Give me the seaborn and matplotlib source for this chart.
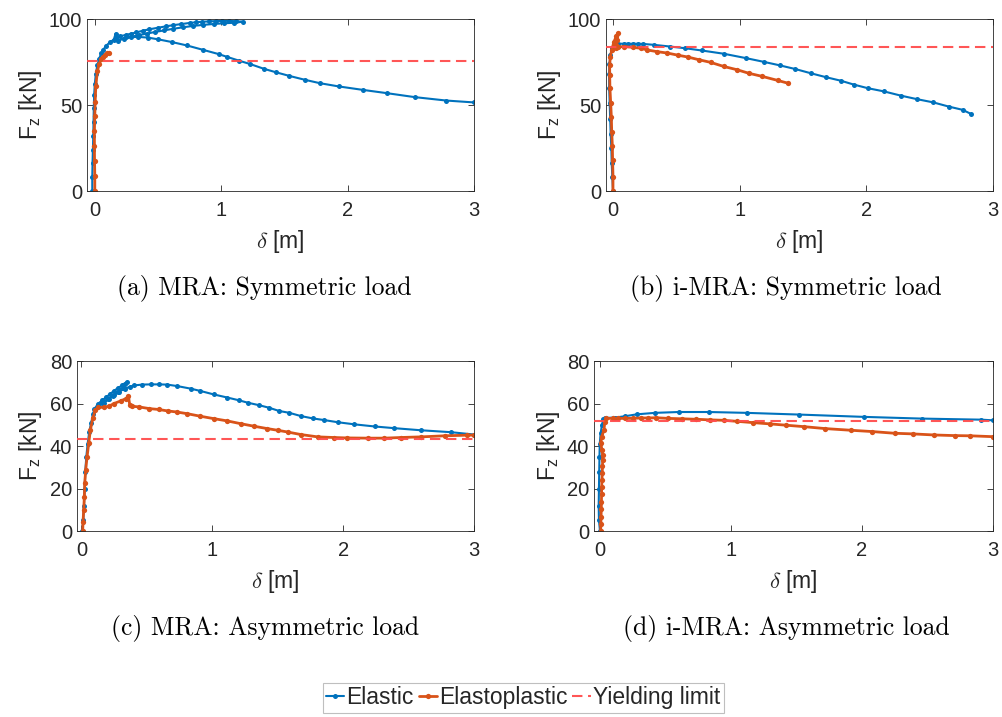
import matplotlib
matplotlib.use('Agg')
import matplotlib.pyplot as plt
import seaborn as sns

#%% Data
# (a) MRA: symmetric load
a_el_x = [-0.02, -0.02, -0.018, -0.015, -0.012, -0.01, -0.008, -0.005, 0.0, 0.008,
          0.02, 0.035, 0.05, 0.066, 0.09, 0.12, 0.15, 0.165, 0.17, 0.2,
          0.25, 0.29, 0.33, 0.38, 0.43, 0.5, 0.56, 0.62, 0.68, 0.75,
          0.8, 0.85, 0.9, 0.96, 1.01, 1.06, 1.12, 1.17,
          1.1, 1.02, 0.94, 0.86, 0.78, 0.7, 0.62, 0.55, 0.48, 0.41, 0.35, 0.29, 0.23, 0.18,
          0.25, 0.34, 0.42, 0.5, 0.61, 0.73, 0.86, 0.98, 1.05, 1.14, 1.23, 1.34, 1.43,
          1.54, 1.66, 1.78, 1.93, 2.12, 2.31, 2.53, 2.78, 3.0]
a_el_y = [0, 8, 16, 24, 32, 40, 48, 56, 62, 68,
          73, 77, 80, 82, 84.5, 86.5, 88, 91.5, 89, 90,
          90.8, 91.5, 92.2, 93.2, 94, 94.9, 95.7, 96.4, 97, 97.7,
          98.1, 98.4, 98.6, 98.8, 98.9, 98.9, 98.7, 98.4,
          97.8, 97.5, 97.1, 96.6, 96, 95.2, 94.3, 93.4, 92.5, 91.5, 90.6, 89.7, 88.6, 87.5,
          89.3, 89.6, 89.2, 88.2, 86.6, 84.6, 82, 79.6, 77.9, 75.8, 73.8, 71, 69.1,
          66.9, 64.7, 62.7, 60.8, 58.8, 56.9, 54.6, 52.6, 51.5]
a_ep_x = [0.0, 0.0, -0.002, -0.003, -0.003, 0.0, 0.003, 0.008, 0.02, 0.035, 0.05, 0.065, 0.08, 0.095, 0.11]
a_ep_y = [0, 9, 17.5, 26, 35, 43.7, 52, 60.8, 69.5, 74, 76.5, 78, 79, 80, 80.5]
a_yield = 75.3

# (b) i-MRA: symmetric load
b_el_x = [0.0, -0.005, -0.01, -0.013, -0.018, -0.022, -0.026, -0.03, -0.031, -0.028,
          -0.02, -0.005, 0.01, 0.04, 0.084, 0.12, 0.16, 0.2, 0.24, 0.32,
          0.45, 0.57, 0.70, 0.875, 1.047, 1.19, 1.32, 1.44, 1.56, 1.68,
          1.80, 1.90, 2.01, 2.14, 2.27, 2.40, 2.53, 2.65, 2.76, 2.83]
b_el_y = [0, 8, 16, 25, 33, 42, 51, 60, 68, 74,
          79, 83, 85.2, 85.7, 85.6, 85.6, 85.6, 85.6, 85.5, 85,
          84, 83, 81.7, 79.8, 77.3, 75.1, 73, 70.9, 68.5, 66.2,
          64.1, 61.9, 59.8, 57.9, 55.5, 53.4, 51.5, 49.1, 47.2, 44.7]
b_ep_x = [0.0, 0.0, -0.003, -0.005, -0.01, -0.013, -0.018, -0.024, -0.026, -0.026,
          -0.021, -0.01, 0.008, 0.027, 0.04, 0.035, 0.025, 0.02, 0.04, 0.084,
          0.16, 0.22, 0.27, 0.35, 0.43, 0.51, 0.59, 0.68, 0.77, 0.875,
          0.98, 1.07, 1.18, 1.30, 1.38]
b_ep_y = [0, 8.3, 18, 26.2, 34.5, 43.2, 51, 59.7, 67.4, 73.3,
          78.1, 82, 86.8, 90.1, 91.8, 88, 85, 83, 83.7, 84,
          83.5, 83, 82, 81, 80.2, 79, 77.9, 76.3, 74.8, 72.4,
          70.5, 68.5, 66.6, 64.3, 62.7]
b_yield = 83.5

# (c) MRA: asymmetric load
c_el_x = [0.008, 0.014, 0.02, 0.025, 0.03, 0.038, 0.048, 0.06, 0.075, 0.09,
          0.10, 0.13, 0.16, 0.19, 0.22, 0.25, 0.28, 0.31, 0.33, 0.35,
          0.32, 0.28, 0.24, 0.2, 0.16, 0.13,
          0.17, 0.21, 0.25, 0.29, 0.33, 0.37,
          0.40, 0.465, 0.53, 0.59, 0.656, 0.733, 0.835, 0.91, 1.01, 1.116,
          1.205, 1.27, 1.358, 1.435, 1.51, 1.59, 1.677, 1.767, 1.856, 1.958,
          2.086, 2.24, 2.39, 2.596, 2.826, 3.0]
c_el_y = [0, 5, 12, 20, 28, 35, 41, 46.5, 51, 55,
          57.5, 60, 61.5, 63, 64.5, 66, 67.3, 68.5, 69.4, 70.3,
          67.5, 65.6, 63.7, 62, 60.2, 58.8,
          60.4, 62.2, 64, 65.6, 67, 67.8,
          68.5, 68.9, 69, 69, 68.9, 68.2, 67, 65.9, 64.3, 62.8,
          61.5, 60.4, 59.2, 58, 56.5, 55.6, 54.1, 53, 52.2, 51.2,
          50.2, 49.2, 48.4, 47.4, 46.5, 45.4]
c_ep_x = [0.01, 0.013, 0.018, 0.023, 0.026, 0.033, 0.044, 0.056, 0.069, 0.087,
          0.107, 0.13, 0.17, 0.21, 0.25, 0.30, 0.34, 0.36, 0.37, 0.39,
          0.44, 0.52, 0.59, 0.66, 0.73, 0.81, 0.91, 1.01, 1.116, 1.218,
          1.32, 1.42, 1.50, 1.575, 1.677, 1.805, 1.93, 2.03, 2.19, 2.315,
          2.44, 2.596, 2.775, 2.95, 3.0]
c_ep_y = [0, 4.4, 9.9, 16, 22.4, 28.6, 35, 41.2, 47.5, 53,
          56.9, 58.2, 58.2, 58.7, 60, 61.2, 62.3, 63.4, 59.2, 58.7,
          58.4, 57.6, 57.2, 56.5, 56, 55.2, 54, 52.9, 51.8, 50.5,
          49.3, 48.2, 47.4, 46.6, 45.4, 44.3, 44, 43.8, 43.7, 43.7,
          44, 44.3, 44.8, 45.1, 45.1]
c_yield = 43.5

# (d) i-MRA: asymmetric load
d_el_x = [0.0, -0.008, -0.01, -0.008, -0.006, -0.004, -0.002, 0.005, 0.015, 0.025,
          0.04, 0.115, 0.19, 0.28, 0.42, 0.60, 0.83, 1.12, 1.52, 2.02,
          2.46, 2.91, 3.0]
d_el_y = [0, 5, 12, 20, 28, 35, 41, 46, 50, 52.5,
          53.2, 53.4, 54, 54.9, 55.6, 56, 56, 55.6, 54.8, 53.7,
          52.9, 52.4, 52.1]
d_ep_x = [0.005, 0.007, 0.008, 0.01, 0.011, 0.012, 0.013, 0.015, 0.017, 0.019,
          0.02, 0.02, 0.015, 0.006, 0.013, 0.03, 0.037, 0.046, 0.10, 0.14,
          0.19, 0.25, 0.31, 0.37, 0.43, 0.52, 0.63, 0.73, 0.84, 0.945,
          1.05, 1.17, 1.30, 1.42, 1.56, 1.72, 1.92, 2.08, 2.25, 2.39,
          2.55, 2.71, 2.83, 3.0]
d_ep_y = [0, 3.5, 6.7, 10.3, 13.8, 17.4, 20.9, 24, 27.1, 30.5,
          33.4, 36, 38.1, 41.3, 44.4, 47.5, 51.4, 53, 53, 53,
          53, 53, 53.2, 53.2, 53.3, 53, 52.8, 52.6, 52.3, 52.1,
          51.6, 51, 50.4, 49.8, 49.1, 48.2, 47.4, 46.8, 46, 45.7,
          45.2, 44.9, 44.8, 44.4]
d_yield = 51.6

captions = ['(a) MRA: Symmetric load', '(b) i-MRA: Symmetric load',
            '(c) MRA: Asymmetric load', '(d) i-MRA: Asymmetric load']
series_names = ['Elastic', 'Elastoplastic', 'Yielding limit']

#%% Style
sns.set_theme(style='ticks')
plt.rcParams['font.family'] = ['Liberation Sans', 'DejaVu Sans']
plt.rcParams['mathtext.fontset'] = 'cm'

blue = '#0072BD'
orange = '#D95319'
red = '#FF4D4D'
dark = '#262626'

fig = plt.figure(figsize=(10.03, 7.17), dpi=100)

panels = [
    dict(el=(a_el_x, a_el_y), ep=(a_ep_x, a_ep_y), yld=a_yield, ylim=(0, 100), yt=[0, 50, 100],
         xlim=(-0.062, 3), rect=[0.0867, 0.7336, 0.3858, 0.2399], cap=(0.263, 0.598), ylab=-0.11),
    dict(el=(b_el_x, b_el_y), ep=(b_ep_x, b_ep_y), yld=b_yield, ylim=(0, 100), yt=[0, 50, 100],
         xlim=(-0.055, 3), rect=[0.6042, 0.7336, 0.3858, 0.2399], cap=(0.783, 0.598), ylab=-0.112),
    dict(el=(c_el_x, c_el_y), ep=(c_ep_x, c_ep_y), yld=c_yield, ylim=(0, 80), yt=[0, 20, 40, 60, 80],
         xlim=(-0.033, 3), rect=[0.0768, 0.2594, 0.3958, 0.2371], cap=(0.264, 0.124), ylab=-0.082),
    dict(el=(d_el_x, d_el_y), ep=(d_ep_x, d_ep_y), yld=d_yield, ylim=(0, 80), yt=[0, 20, 40, 60, 80],
         xlim=(-0.046, 3), rect=[0.5922, 0.2594, 0.3975, 0.2371], cap=(0.784, 0.124), ylab=-0.08),
]

axes = []
for p, cap in zip(panels, captions):
    ax = fig.add_axes(p['rect'])
    sns.lineplot(x=p['el'][0], y=p['el'][1], sort=False, estimator=None, ax=ax,
                 color=blue, linewidth=1.5, marker='o', markersize=3.6,
                 markeredgewidth=0, label=series_names[0])
    sns.lineplot(x=p['ep'][0], y=p['ep'][1], sort=False, estimator=None, ax=ax,
                 color=orange, linewidth=2.0, marker='o', markersize=3.8,
                 markeredgewidth=0, label=series_names[1])
    ax.axhline(p['yld'], color=red, linewidth=1.5, dashes=(5, 2.7), alpha=0.95,
               label=series_names[2], zorder=5)
    if ax.get_legend() is not None:
        ax.get_legend().remove()

    ax.set_xlim(p['xlim'])
    ax.set_ylim(p['ylim'])
    ax.set_xticks([0, 1, 2, 3])
    ax.set_yticks(p['yt'])
    ax.tick_params(direction='in', top=True, right=True, length=4, width=0.6,
                   colors=dark, labelsize=14.5)
    ax.tick_params(axis='x', pad=7)
    ax.tick_params(axis='y', pad=3.5)
    for s in ax.spines.values():
        s.set_linewidth(0.6)
        s.set_color(dark)
    ax.set_xlabel(r'$\delta$ [m]', fontsize=16.5, color=dark, labelpad=6)
    ax.set_ylabel(r'$\mathregular{F_z}$ [kN]', fontsize=16.5, color=dark)
    ax.yaxis.set_label_coords(p['ylab'], 0.5)
    fig.text(p['cap'][0], p['cap'][1], cap, fontfamily='cmr10', fontsize=18.5,
             ha='center', va='center', color='black')
    axes.append(ax)

handles, labels = axes[0].get_legend_handles_labels()
leg = fig.legend(handles, labels, loc='center', bbox_to_anchor=(0.5215, 0.0265), ncol=3,
                 frameon=True, fancybox=False, edgecolor='#b0b0b0', fontsize=16.5,
                 handlelength=0.8, handletextpad=0.1, columnspacing=0.2, borderpad=0.15)
leg.get_frame().set_linewidth(0.8)

plt.savefig('out.png', dpi=100)
